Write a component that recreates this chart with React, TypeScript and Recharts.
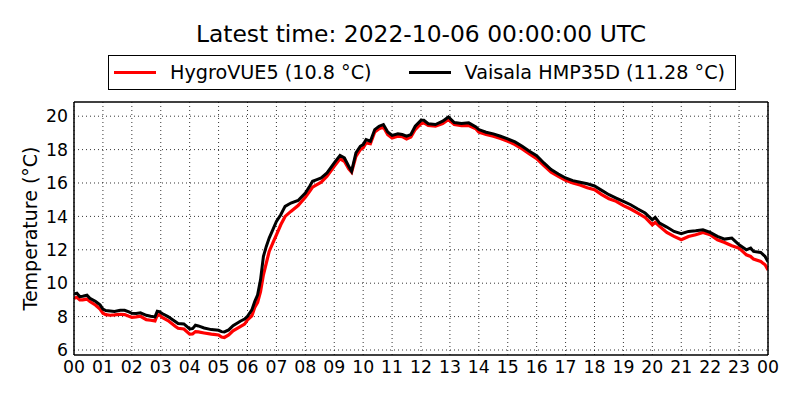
import { LineChart, Line, XAxis, YAxis, CartesianGrid, Legend } from "recharts";

// hours since 00 UTC
const hours = [
  0, 0.1, 0.2, 0.3, 0.45, 0.55, 0.75, 0.9, 1.0, 1.1, 1.25, 1.4, 1.6, 1.75, 1.9, 2.0, 2.15, 2.3, 2.5,
  2.65, 2.8, 2.88, 2.95, 3.05, 3.25, 3.5, 3.6, 3.8, 4.0, 4.1, 4.2, 4.3, 4.5, 4.75, 5.0, 5.1, 5.2,
  5.35, 5.5, 5.75, 5.9, 6.0, 6.15, 6.25, 6.35, 6.45, 6.55, 6.65, 6.75, 6.9, 7.0, 7.15, 7.3, 7.5,
  7.75, 8.0, 8.15, 8.25, 8.4, 8.55, 8.75, 9.0, 9.2, 9.35, 9.5, 9.6, 9.75, 9.9, 10.0, 10.1, 10.25,
  10.4, 10.55, 10.7, 10.85, 11.0, 11.2, 11.35, 11.5, 11.65, 11.8, 12.0, 12.1, 12.25, 12.5, 12.75,
  12.95, 13.15, 13.4, 13.65, 13.9, 14.0, 14.25, 14.5, 14.75, 15.0, 15.25, 15.5, 15.75, 16.0,
  16.25, 16.5, 16.75, 17.0, 17.25, 17.5, 17.75, 18.0, 18.25, 18.5, 18.75, 19.0, 19.25, 19.5,
  19.75, 20.0, 20.1, 20.25, 20.5, 20.75, 21.0, 21.25, 21.5, 21.75, 22.0, 22.25, 22.5, 22.75,
  23.0, 23.25, 23.4, 23.5, 23.75, 23.9, 24.0,
];

const hygroVue = [
  9.1, 9.15, 9.0, 9.0, 9.05, 8.9, 8.68, 8.45, 8.2, 8.12, 8.08, 8.1, 8.14, 8.12, 8.02, 7.96, 7.98,
  8.02, 7.82, 7.78, 7.74, 8.1, 8.12, 7.95, 7.76, 7.42, 7.3, 7.26, 6.95, 6.96, 7.1, 7.08, 7.02,
  6.95, 6.9, 6.78, 6.75, 6.9, 7.15, 7.4, 7.55, 7.8, 8.05, 8.55, 8.85, 9.5, 10.5, 11.2, 11.9,
  12.5, 12.9, 13.5, 14.0, 14.3, 14.65, 15.15, 15.5, 15.75, 15.9, 16.05, 16.4, 17.0, 17.45, 17.3,
  16.85, 16.65, 17.6, 18.0, 18.1, 18.4, 18.35, 19.05, 19.25, 19.35, 18.9, 18.7, 18.8, 18.78,
  18.64, 18.75, 19.2, 19.55, 19.6, 19.44, 19.4, 19.56, 19.8, 19.5, 19.44, 19.44, 19.24, 19.04,
  18.9, 18.8, 18.66, 18.5, 18.3, 18.04, 17.74, 17.46, 17.04, 16.64, 16.4, 16.16, 16.0, 15.88,
  15.72, 15.6, 15.3, 15.06, 14.9, 14.64, 14.44, 14.2, 13.94, 13.5, 13.64, 13.4, 13.04, 12.8,
  12.6, 12.8, 12.9, 13.04, 12.9, 12.6, 12.44, 12.24, 12.1, 11.7, 11.6, 11.44, 11.3, 11.1, 10.8,
];

const vaisala = [
  9.35, 9.4, 9.2, 9.22, 9.28, 9.1, 8.9, 8.7, 8.45, 8.36, 8.33, 8.3, 8.38, 8.38, 8.28, 8.2, 8.18,
  8.23, 8.08, 8.02, 7.98, 8.32, 8.3, 8.18, 8.0, 7.7, 7.58, 7.56, 7.26, 7.28, 7.48, 7.44, 7.32,
  7.22, 7.18, 7.1, 7.08, 7.2, 7.45, 7.72, 7.85, 8.02, 8.4, 8.9, 9.3, 10.2, 11.6, 12.2, 12.7,
  13.3, 13.7, 14.1, 14.6, 14.8, 14.95, 15.4, 15.8, 16.1, 16.2, 16.3, 16.6, 17.2, 17.65, 17.5,
  17.0, 16.7, 17.8, 18.2, 18.3, 18.6, 18.5, 19.2, 19.4, 19.5, 19.05, 18.85, 18.95, 18.9, 18.8,
  18.9, 19.4, 19.75, 19.75, 19.55, 19.5, 19.7, 19.95, 19.62, 19.56, 19.6, 19.36, 19.2, 19.04,
  18.94, 18.8, 18.64, 18.46, 18.2, 17.9, 17.64, 17.2, 16.8, 16.54, 16.3, 16.14, 16.04, 15.95,
  15.82, 15.56, 15.3, 15.1, 14.9, 14.7, 14.44, 14.2, 13.8, 13.94, 13.6, 13.36, 13.1, 12.96,
  13.1, 13.14, 13.2, 13.04, 12.8, 12.64, 12.7, 12.3, 12.0, 12.1, 11.9, 11.84, 11.6, 11.28,
];

const hourTicks = [0, 1, 2, 3, 4, 5, 6, 7, 8, 9, 10, 11, 12, 13, 14, 15, 16, 17, 18, 19, 20, 21, 22, 23, 24];
const tempTicks = [6, 8, 10, 12, 14, 16, 18, 20];

const title = "Latest time: 2022-10-06 00:00:00 UTC";
const yLabel = "Temperature (°C)";
const hygroName = "HygroVUE5 (10.8 °C)";
const vaisalaName = "Vaisala HMP35D (11.28 °C)";

const data = hours.map((h, i) => ({ h, hygro: hygroVue[i], vaisala: vaisala[i] }));

const FONT = "'DejaVu Sans', sans-serif";
const X_DOMAIN: [number, number] = [0, 24];
const Y_DOMAIN: [number, number] = [5.7, 20.85];

const fmtHour = (h: number) => String(h % 24).padStart(2, "0");

function LegendBox({ payload }: { payload?: any[] }) {
  return (
    <div
      style={{
        width: 626,
        height: 33,
        border: "1px solid #000",
        background: "#fff",
        display: "flex",
        alignItems: "center",
        fontFamily: FONT,
        fontSize: 19.2,
        color: "#000",
      }}
    >
      {(payload ?? []).map((p, i) => (
        <div key={p.value} style={{ display: "flex", alignItems: "center", marginLeft: i === 0 ? 5 : 37 }}>
          <span style={{ display: "inline-block", width: 42, height: 3, background: p.color }} />
          <span style={{ marginLeft: 14, whiteSpace: "nowrap" }}>{p.value}</span>
        </div>
      ))}
    </div>
  );
}

export default function App() {
  return (
    <div style={{ position: "relative", width: 800, height: 400, background: "#fff" }}>
      <style>{"body{margin:0}"}</style>
      <div
        style={{
          position: "absolute",
          top: 20,
          left: 0,
          width: 842,
          textAlign: "center",
          fontFamily: FONT,
          fontSize: 23.4,
          color: "#000",
          whiteSpace: "nowrap",
        }}
      >
        {title}
      </div>
      <LineChart width={800} height={400} data={data} margin={{ top: 102, right: 32, bottom: 15, left: 14 }}>
        <CartesianGrid stroke="#000" strokeDasharray="1 3" strokeWidth={0.8} verticalValues={hourTicks} horizontalValues={tempTicks} />
        <XAxis
          dataKey="h"
          type="number"
          domain={X_DOMAIN}
          ticks={hourTicks}
          allowDataOverflow
          tickFormatter={fmtHour}
          height={30}
          tickSize={0}
          tickMargin={6}
          tickLine={false}
          axisLine={{ stroke: "#000", strokeWidth: 1.5 }}
          tick={{ fill: "#000", fontSize: 17.3, fontFamily: FONT }}
        />
        <XAxis
          xAxisId="bottomTicks"
          dataKey="h"
          type="number"
          domain={X_DOMAIN}
          ticks={hourTicks}
          allowDataOverflow
          mirror
          tick={false}
          tickSize={5}
          tickLine={{ stroke: "#000" }}
          axisLine={false}
        />
        <XAxis
          xAxisId="top"
          orientation="top"
          dataKey="h"
          type="number"
          domain={X_DOMAIN}
          ticks={hourTicks}
          allowDataOverflow
          mirror
          tick={false}
          tickSize={5}
          tickLine={{ stroke: "#000" }}
          axisLine={{ stroke: "#000", strokeWidth: 1.5 }}
        />
        <YAxis
          type="number"
          domain={Y_DOMAIN}
          ticks={tempTicks}
          allowDataOverflow
          width={60}
          tickSize={0}
          tickMargin={6}
          tickLine={false}
          axisLine={{ stroke: "#000", strokeWidth: 1.5 }}
          tick={{ fill: "#000", fontSize: 17.3, fontFamily: FONT }}
          label={{
            content: ({ viewBox }: any) => {
              const cx = (viewBox?.x ?? 14) + 16;
              const cy = (viewBox?.y ?? 102) + (viewBox?.height ?? 253) / 2;
              return (
                <text
                  x={cx}
                  y={cy}
                  transform={`rotate(-90 ${cx} ${cy})`}
                  textAnchor="middle"
                  dominantBaseline="central"
                  fontFamily={FONT}
                  fontSize={19}
                  fill="#000"
                >
                  {yLabel}
                </text>
              );
            },
          }}
        />
        <YAxis
          yAxisId="leftTicks"
          type="number"
          domain={Y_DOMAIN}
          ticks={tempTicks}
          allowDataOverflow
          mirror
          tick={false}
          tickSize={5}
          tickLine={{ stroke: "#000" }}
          axisLine={false}
        />
        <YAxis
          yAxisId="right"
          orientation="right"
          type="number"
          domain={Y_DOMAIN}
          ticks={tempTicks}
          allowDataOverflow
          mirror
          tick={false}
          tickSize={5}
          tickLine={{ stroke: "#000" }}
          axisLine={{ stroke: "#000", strokeWidth: 1.5 }}
        />
        <Legend
          layout="horizontal"
          verticalAlign="middle"
          align="center"
          wrapperStyle={{ top: 55, left: 108, width: 628, height: 35 }}
          content={(props: any) => <LegendBox payload={props.payload} />}
        />
        <Line
          type="linear"
          dataKey="hygro"
          name={hygroName}
          stroke="#ff0000"
          strokeWidth={3.2}
          dot={false}
          activeDot={false}
          isAnimationActive={false}
        />
        <Line
          type="linear"
          dataKey="vaisala"
          name={vaisalaName}
          stroke="#000000"
          strokeWidth={3}
          dot={false}
          activeDot={false}
          isAnimationActive={false}
        />
      </LineChart>
    </div>
  );
}
